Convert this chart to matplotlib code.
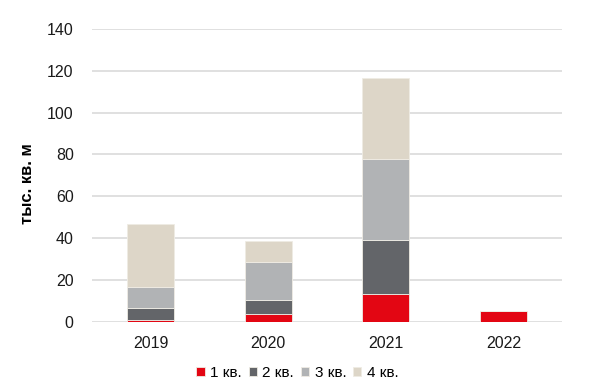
import matplotlib
matplotlib.use("Agg")
import matplotlib.pyplot as plt
import numpy as np

plt.rcParams['font.family'] = ['Liberation Sans', 'DejaVu Sans']

years = ["2019", "2020", "2021", "2022"]
quarter_names = ["1 кв.", "2 кв.", "3 кв.", "4 кв."]
q1 = [0.6, 3.8, 13.4, 5.1]
q2 = [5.8, 6.7, 25.8, 0]
q3 = [10.2, 17.9, 38.6, 0]
q4 = [30.3, 10.0, 38.9, 0]
colors = ["#E30613", "#636569", "#B1B3B5", "#DDD6C8"]

fig = plt.figure(figsize=(6, 3.9), dpi=100)
ax = fig.add_axes([0.153, 0.175, 0.784, 0.751])

x = np.arange(len(years))
bottom = np.zeros(len(years))
for vals, name, c in zip([q1, q2, q3, q4], quarter_names, colors):
    vals = np.array(vals)
    ax.bar(x, vals, 0.4, bottom=bottom, color=c, label=name,
           edgecolor="#EFECE4", linewidth=0.6, zorder=3)
    bottom += vals

ax.set_xlim(-0.5, len(years) - 0.5)
ax.set_ylim(0, 140)
ax.set_yticks(range(0, 141, 20))
ax.set_xticks(x)
ax.set_xticklabels(years)
ax.tick_params(axis='both', length=0, labelsize=11.5, colors="#1a1a1a")
ax.tick_params(axis='y', pad=13)
ax.tick_params(axis='x', pad=10)
ax.grid(axis='y', color="#E0E0E0", linewidth=1.4, zorder=0)
for s in ax.spines.values():
    s.set_visible(False)

ax.set_ylabel("тыс. кв. м", fontsize=12, fontweight='bold')
ax.yaxis.set_label_coords(-0.12, 0.47)

ax.legend(loc='center', bbox_to_anchor=(0.437, -0.175), ncol=4, frameon=False,
          fontsize=11, handlelength=0.55, handleheight=0.55, handletextpad=0.35,
          columnspacing=0.45)

fig.savefig("out.png", dpi=100)
